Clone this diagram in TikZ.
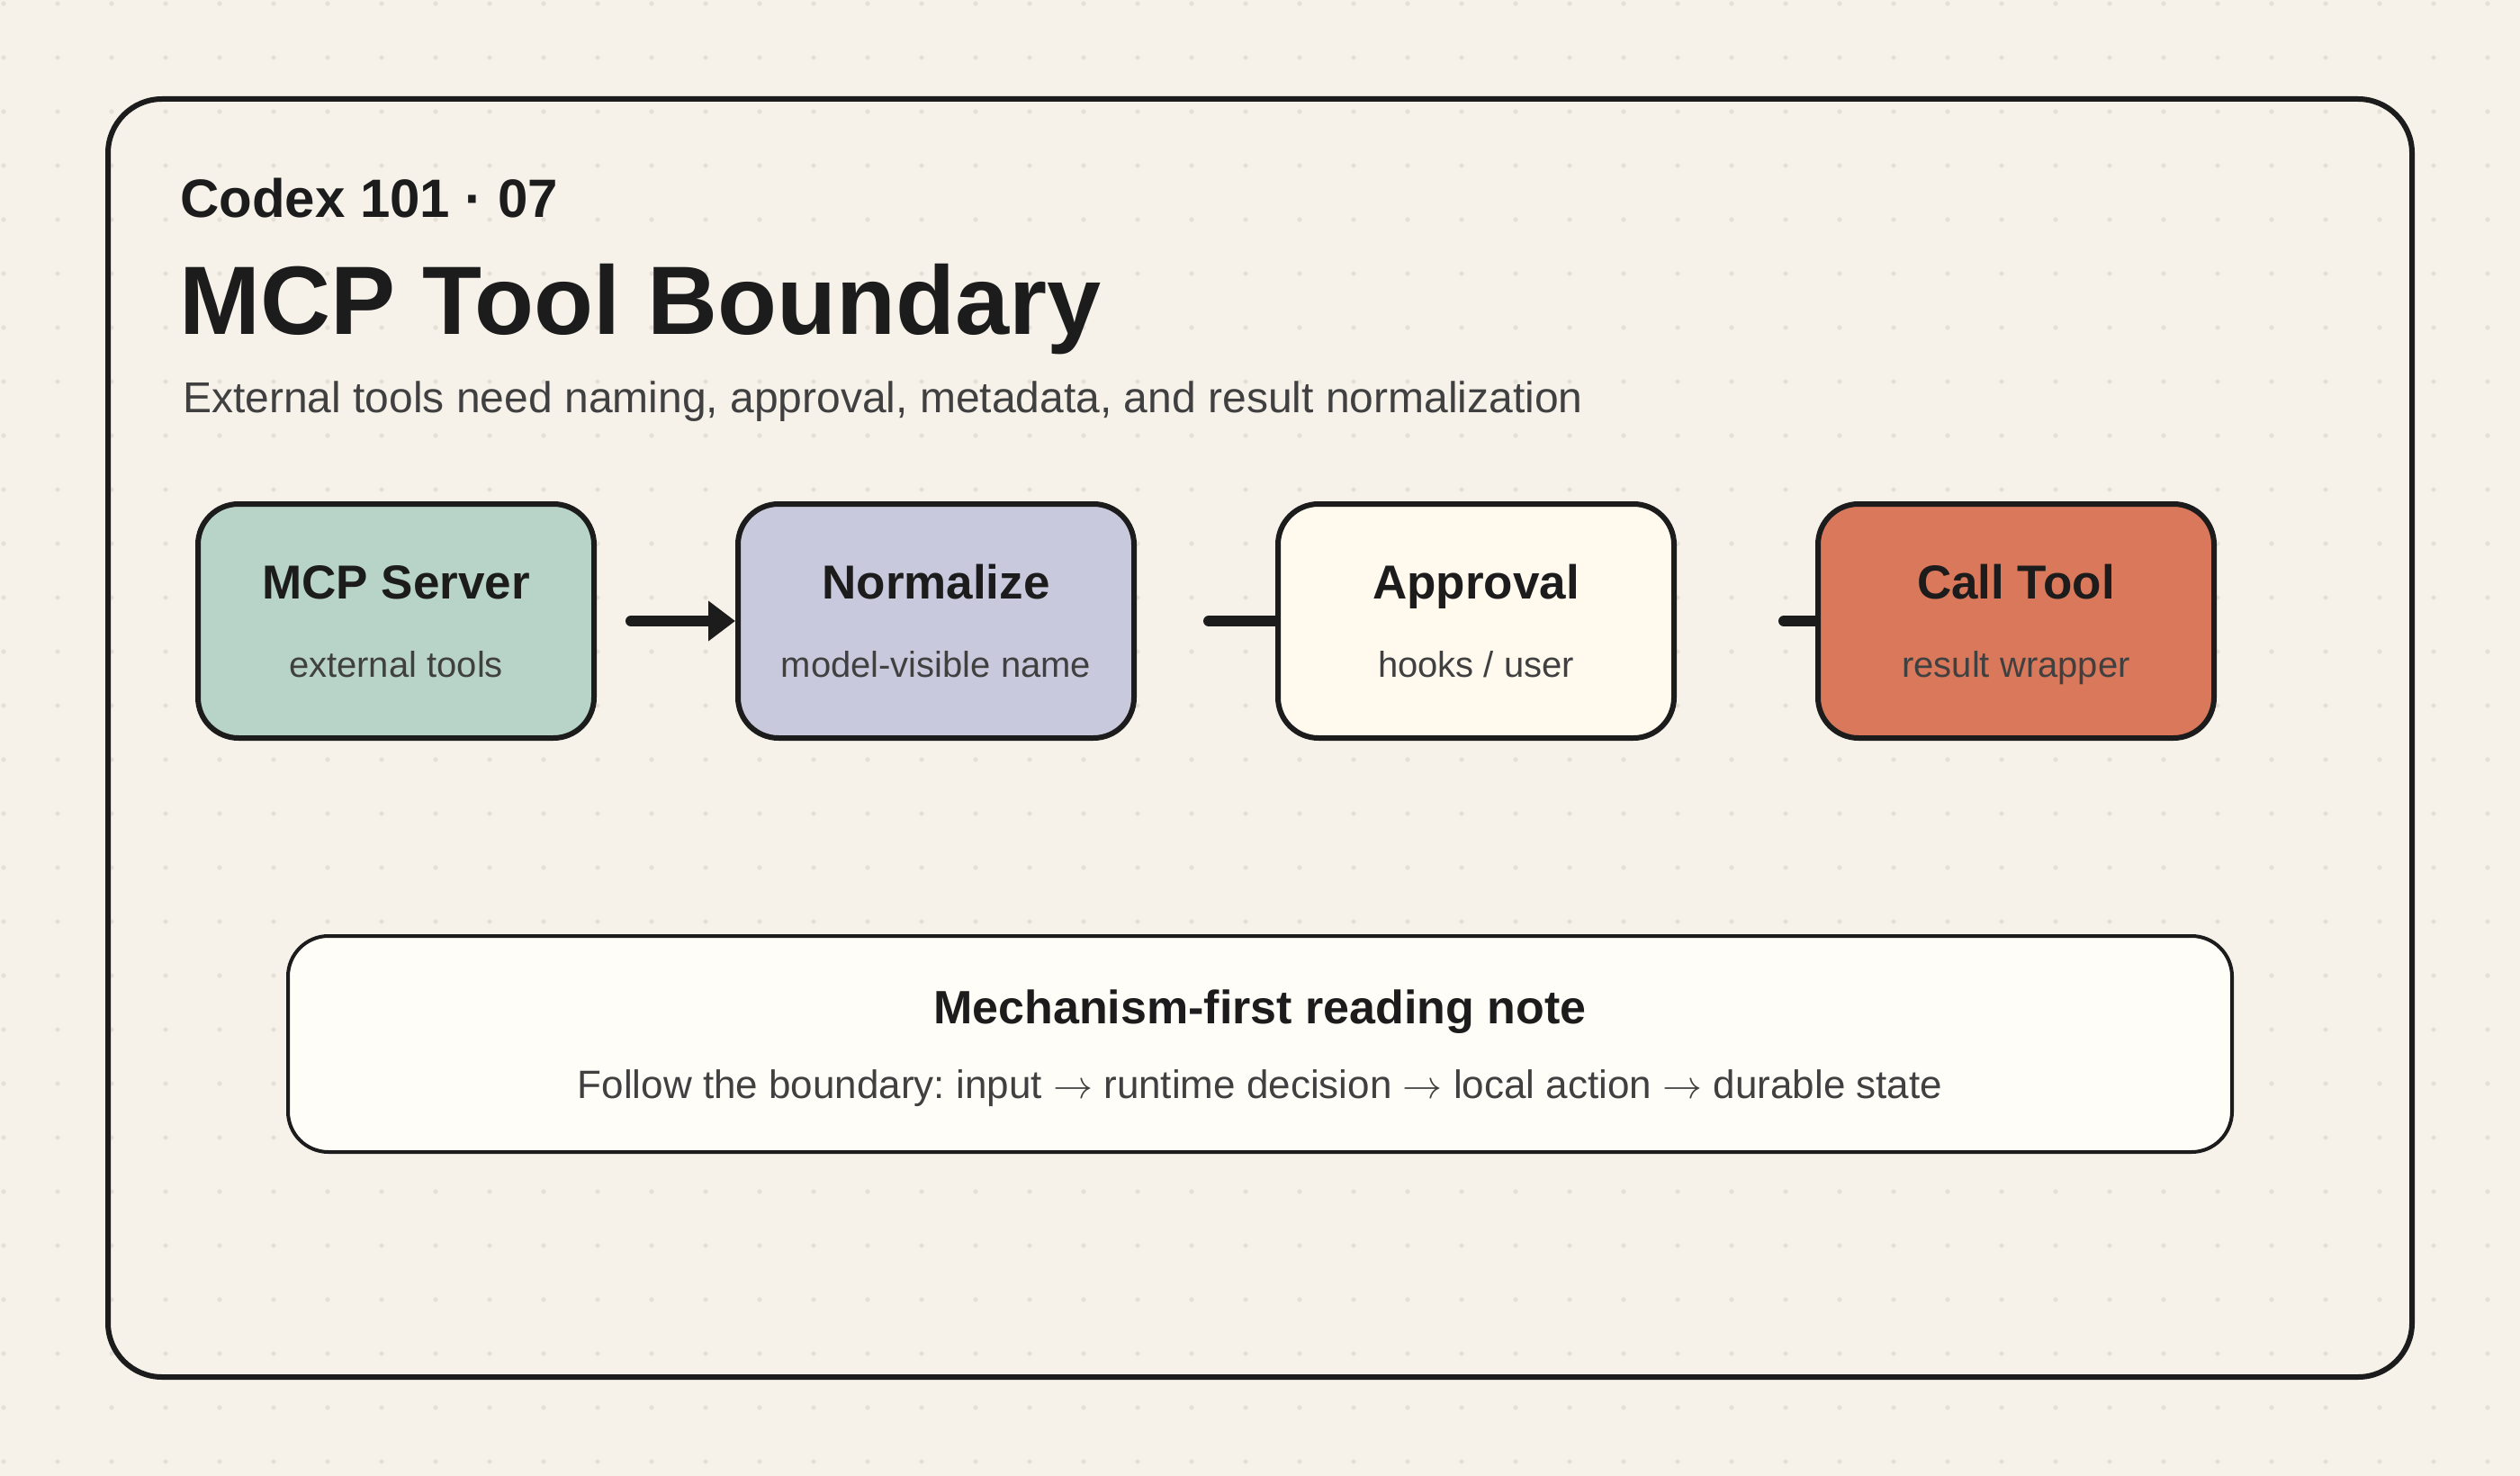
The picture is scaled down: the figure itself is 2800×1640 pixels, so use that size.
\RequirePackage{fix-cm}
\documentclass[tikz,border=0pt]{standalone}
\usepackage{fontspec}
\setmainfont{Liberation Sans}
\usetikzlibrary{arrows.meta}
\frenchspacing
\definecolor{bgc}{HTML}{F6F2EA}
\definecolor{dotc}{HTML}{E4E0D7}
\definecolor{ink}{HTML}{1C1C1C}
\definecolor{soft}{HTML}{404040}
\definecolor{cA}{HTML}{B8D4C8}
\definecolor{cB}{HTML}{C8C9DD}
\definecolor{cC}{HTML}{FFF9EE}
\definecolor{cD}{HTML}{D9785B}
\definecolor{noteC}{HTML}{FFFDF7}
\newcommand{\flowarrow}{\ensuremath{\rightarrow}}
\tikzset{
  stepbox/.style={draw=ink, line width=6, rounded corners=45, minimum width=440, minimum height=260, inner sep=0},
  boxtitle/.style={anchor=base, inner sep=0, text=ink, font=\fontsize{53}{60}\selectfont\bfseries},
  boxsub/.style={anchor=base, inner sep=0, text=soft, font=\fontsize{40}{46}\selectfont},
  conn/.style={draw=ink, line width=12, line cap=round},
  notebox/.style={draw=ink, line width=4, rounded corners=45, fill=noteC, minimum width=2160, minimum height=240, inner sep=0}
}
\begin{document}
\begin{tikzpicture}[x=1pt,y=-1pt]
\useasboundingbox (0,0) rectangle (2800,1640);
\fill[bgc] (0,0) rectangle (2800,1640);
\foreach \i in {0,...,46} {\foreach \j in {0,...,27} {\fill[dotc] (4+60*\i,4+60*\j) circle[radius=2.6];}}
% frame
\draw[ink, line width=6, rounded corners=60] (120,110) rectangle (2680,1530);
% header
\node[anchor=base west, inner sep=0, text=ink, font=\fontsize{60}{68}\selectfont\bfseries] (kicker) at (200,241) {Codex 101 · 07};
\node[anchor=base west, inner sep=0, text=ink, font=\fontsize{108}{120}\selectfont\bfseries] (title) at (199,371) {MCP Tool Boundary};
\node[anchor=base west, inner sep=0, text=soft, font=\fontsize{48}{56}\selectfont] (sub) at (203,458) {External tools need naming, approval, metadata, and result normalization};
% boxes
\node[stepbox, fill=cA] (srv) at (440,690) {};
\node[stepbox, fill=cB] (norm) at (1040,690) {};
\node[stepbox, fill=cC] (appr) at (1640,690) {};
\node[stepbox, fill=cD] (call) at (2240,690) {};
\node[boxtitle] (srvT) at (440,665) {MCP Server};
\node[boxsub] (srvS) at (440,752) {external tools};
\node[boxtitle] (normT) at (1040,665) {Normalize};
\node[boxsub] (normS) at (1040,752) {model-visible name};
\node[boxtitle] (apprT) at (1640,665) {Approval};
\node[boxsub] (apprS) at (1640,752) {hooks / user};
\node[boxtitle] (callT) at (2240,665) {Call Tool};
\node[boxsub] (callS) at (2240,752) {result wrapper};
% connectors
\coordinate (k1) at (701,690);
\coordinate (k2) at (1343,690);
\coordinate (k3) at (1982,690);
\draw[conn, -{Triangle[length=30,width=43]}] (k1) -- (norm.west);
\draw[conn] (k2) -- (appr.west);
\draw[conn] (k3) -- (call.west);
% note
\node[notebox] (note) at (1400,1160) {};
\node[anchor=base, inner sep=0, text=ink, font=\fontsize{52}{60}\selectfont\bfseries] (noteT) at (1400,1137) {Mechanism-first reading note};
\node[anchor=base, inner sep=0, text=soft, font=\fontsize{44}{50}\selectfont] (noteB) at (1400,1220) {Follow the boundary: input \flowarrow{} runtime decision \flowarrow{} local action \flowarrow{} durable state};
\end{tikzpicture}
\end{document}
